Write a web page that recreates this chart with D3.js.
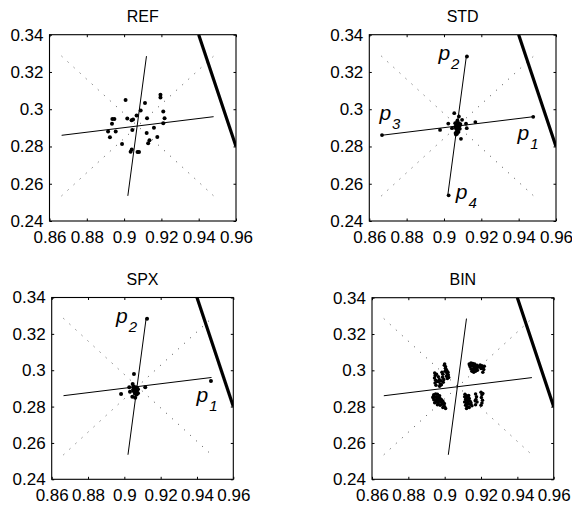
<!DOCTYPE html>
<html><head><meta charset="utf-8">
<script src="https://cdn.jsdelivr.net/npm/d3@7"></script>
<style>
body{margin:0;background:#fff}
svg{display:block}
text{font-family:"Liberation Sans",Arial,sans-serif;fill:#000}
</style>
</head><body><svg id="c" width="572" height="506"></svg>
<script>
// ---------- data ----------
const xTicks=[0.86,0.88,0.9,0.92,0.94,0.96];
const xTickLabels=["0.86","0.88","0.9","0.92","0.94","0.96"];
const yTicks=[0.24,0.26,0.28,0.3,0.32,0.34];
const yTickLabels=["0.24","0.26","0.28","0.3","0.32","0.34"];
const panelTitles=["REF","STD","SPX","BIN"];

// principal-axis end points p1..p4
const pNames=["1","2","3","4"];
const pX=[0.948,0.912,0.8665,0.902];
const pY=[0.296,0.3285,0.286,0.2535];
// dotted diagonals
const diagX=[0.8665,0.948];
const diagYa=[0.3285,0.2535];
const diagYb=[0.2535,0.3285];
// thick boundary line
const boundX=[0.94,0.96];
const boundY=[0.34,0.28];

const refX=[0.9008,0.9112,0.9195,0.9195,0.9089,0.9210,0.9067,0.9017,0.9040,0.9048,0.8937,0.8948,0.8935,0.9123,0.9217,0.9210,0.9160,0.9044,0.8914,0.8955,0.8924,0.9121,0.9178,0.9136,0.9129,0.8989,0.9041,0.9035,0.9072,0.9080];
const refY=[0.3049,0.3033,0.3077,0.3063,0.2993,0.2988,0.2966,0.2950,0.2941,0.2945,0.2947,0.2947,0.2922,0.2952,0.2951,0.2925,0.2900,0.2889,0.2880,0.2880,0.2850,0.2872,0.2851,0.2834,0.2818,0.2813,0.2784,0.2772,0.2771,0.2771];

const stdX=[0.9055,0.9023,0.8979,0.9168,0.9118,0.9122,0.9091,0.9064,0.9080,0.9097,0.9043,
 0.9060,0.9070,0.9080,0.9065,0.9075,0.9085,0.9060,0.9070,0.9080,0.9065,0.9075,0.9085,0.9068,0.9078,0.9070,0.9062,0.9088,0.9072,
 0.9478,0.9123,0.8668,0.9025];
const stdY=[0.2979,0.2923,0.2889,0.2931,0.2922,0.2898,0.2841,0.2864,0.2961,0.2943,0.2898,
 0.2925,0.2930,0.2925,0.2915,0.2918,0.2912,0.2905,0.2908,0.2902,0.2895,0.2890,0.2895,0.2880,0.2878,0.2868,0.2872,0.2920,0.2940,
 0.2959,0.3283,0.2861,0.2538];

const spxX=[0.9053,0.8982,0.9115,0.9027,0.9044,0.9060,0.9031,0.9046,0.9477,0.9125,
 0.9050,0.9060,0.9070,0.9055,0.9065,0.9075,0.9050,0.9060,0.9070,0.9058,0.9068,0.9075,0.9048];
const spxY=[0.2979,0.2869,0.2906,0.2906,0.2854,0.2849,0.2882,0.2924,0.2941,0.3283,
 0.2910,0.2906,0.2902,0.2897,0.2893,0.2896,0.2886,0.2882,0.2879,0.2870,0.2866,0.2873,0.2893];

const binX=[
 // upper left
 0.8945,0.8948,0.8944,0.8950,0.8947,0.8952,0.8965,0.8970,0.8968,0.8975,0.8972,0.8985,0.8990,0.8988,0.8995,0.8992,0.9000,0.9005,0.9008,0.9002,0.9012,0.9010,0.9015,0.9020,0.9018,0.9022,
 0.8955,0.8958,0.8980,0.8982,0.9004,0.9012,0.9016,0.8998,
 // upper right
 0.9135,0.9145,0.9155,0.9165,0.9140,0.9150,0.9160,0.9170,0.9145,0.9155,0.9165,0.9175,0.9150,0.9160,0.9170,0.9180,0.9195,0.9205,0.9210,0.9200,0.9215,0.9210,0.9185,
 0.9138,0.9158,0.9178,0.9190,0.9218,
 // lower left
 0.8940,0.8950,0.8960,0.8935,0.8945,0.8955,0.8965,0.8940,0.8950,0.8960,0.8970,0.8975,0.8945,0.8955,0.8965,0.8980,0.8990,0.8985,0.8995,0.9000,0.9005,0.8990,0.8975,0.8960,
 0.8938,0.8958,0.8972,0.8983,0.8998,
 // lower right
 0.9110,0.9120,0.9130,0.9115,0.9125,0.9135,0.9140,0.9110,0.9120,0.9130,0.9145,0.9115,0.9125,0.9135,0.9120,0.9150,0.9170,0.9175,0.9172,0.9178,0.9170,0.9200,0.9205,0.9202,0.9208,0.9205,0.9200,
 0.9118,0.9128,0.9142,0.9112,0.9132,0.9168,0.9210];
const binY=[
 0.2985,0.2972,0.2958,0.2945,0.2930,0.2918,0.2965,0.2950,0.2938,0.2925,0.2912,0.2990,0.2978,0.2962,0.2950,0.2935,0.3035,0.3020,0.3005,0.2995,0.2985,0.2968,0.2955,0.2975,0.2990,0.2960,
 0.2978,0.2938,0.2942,0.2920,0.3012,0.2998,0.2978,0.3028,
 0.3035,0.3040,0.3038,0.3035,0.3020,0.3025,0.3020,0.3022,0.3008,0.3005,0.3008,0.3010,0.2995,0.2990,0.2995,0.3000,0.3030,0.3025,0.3015,0.3010,0.3005,0.2990,0.3018,
 0.3028,0.3030,0.3028,0.3020,0.3022,
 0.2865,0.2870,0.2868,0.2850,0.2852,0.2855,0.2850,0.2838,0.2835,0.2840,0.2832,0.2845,0.2822,0.2825,0.2820,0.2825,0.2830,0.2815,0.2810,0.2800,0.2790,0.2795,0.2808,0.2810,
 0.2858,0.2845,0.2860,0.2838,0.2818,
 0.2855,0.2860,0.2850,0.2840,0.2835,0.2845,0.2830,0.2825,0.2820,0.2815,0.2820,0.2808,0.2800,0.2795,0.2790,0.2805,0.2870,0.2855,0.2840,0.2825,0.2810,0.2880,0.2865,0.2850,0.2835,0.2820,0.2808,
 0.2848,0.2828,0.2812,0.2868,0.2862,0.2832,0.2872];

// ---------- layout ----------
const panels=[
 {title:panelTitles[0],l:49.5,t:34.7,w:186.5,h:186.3,xs:refX,ys:refY,r:2.0,labels:[]},
 {title:panelTitles[1],l:369.3,t:34.7,w:186.7,h:186.3,xs:stdX,ys:stdY,r:1.9,
  labels:[{i:0,dx:-16,dy:23},{i:1,dx:-28,dy:3.5},{i:2,dx:-2,dy:-15},{i:3,dx:8,dy:3.5}]},
 {title:panelTitles[2],l:51.7,t:297.5,w:181.6,h:181.8,xs:spxX,ys:spxY,r:2.0,
  labels:[{i:0,dx:-15,dy:25},{i:1,dx:-30,dy:4.5}]},
 {title:panelTitles[3],l:372,t:297.7,w:181.7,h:181.6,xs:binX,ys:binY,r:1.75,labels:[]}
];

const svg=d3.select("#c");
panels.forEach((p,k)=>{
  const x=d3.scaleLinear().domain([xTicks[0],xTicks[xTicks.length-1]]).range([0,p.w]);
  const y=d3.scaleLinear().domain([yTicks[0],yTicks[yTicks.length-1]]).range([p.h,0]);
  const g=svg.append("g").attr("transform",`translate(${p.l},${p.t})`);
  const cid="clip"+k;
  g.append("clipPath").attr("id",cid).append("rect").attr("width",p.w).attr("height",p.h);
  const pg=g.append("g").attr("clip-path",`url(#${cid})`);
  const line=d3.line().x(d=>x(d[0])).y(d=>y(d[1]));

  // dotted diagonals
  [diagYa,diagYb].forEach(dy=>{
    pg.append("path").attr("d",line(d3.zip(diagX,dy)))
      .attr("fill","none").attr("stroke","#444").attr("stroke-width",1)
      .attr("stroke-dasharray","1 7.2");
  });
  // principal axes
  pg.append("path").attr("d",line([[pX[2],pY[2]],[pX[0],pY[0]]]))
    .attr("fill","none").attr("stroke","#000").attr("stroke-width",1);
  pg.append("path").attr("d",line([[pX[3],pY[3]],[pX[1],pY[1]]]))
    .attr("fill","none").attr("stroke","#000").attr("stroke-width",1);
  // boundary
  pg.append("path").attr("d",line(d3.zip(boundX,boundY)))
    .attr("fill","none").attr("stroke","#000").attr("stroke-width",3.2);
  // points
  pg.selectAll("circle.pt").data(d3.zip(p.xs,p.ys)).join("circle").attr("class","pt")
    .attr("cx",d=>x(d[0])).attr("cy",d=>y(d[1])).attr("r",p.r).attr("fill","#000");

  // axes
  const fmtX=(d,i)=>xTickLabels[i], fmtY=(d,i)=>yTickLabels[i];
  const ax=g.append("g").attr("transform",`translate(0,${p.h})`)
    .call(d3.axisBottom(x).tickValues(xTicks).tickFormat(fmtX).tickSizeInner(-2.5).tickSizeOuter(0).tickPadding(10));
  const ay=g.append("g")
    .call(d3.axisLeft(y).tickValues(yTicks).tickFormat(fmtY).tickSizeInner(-2.5).tickSizeOuter(0).tickPadding(6));
  const axT=g.append("g").call(d3.axisTop(x).tickValues(xTicks).tickFormat("").tickSizeInner(-2.5).tickSizeOuter(0));
  const ayR=g.append("g").attr("transform",`translate(${p.w},0)`)
    .call(d3.axisRight(y).tickValues(yTicks).tickFormat("").tickSizeInner(-2.5).tickSizeOuter(0));
  [ax,ay,axT,ayR].forEach(a=>{
    a.select(".domain").remove();
    a.selectAll("line").attr("stroke","#000");
    a.selectAll("text").style("font-size","17px").attr("fill","#000");
  });
  g.append("rect").attr("width",p.w).attr("height",p.h)
    .attr("fill","none").attr("stroke","#000").attr("stroke-width",1.1);

  // title
  g.append("text").attr("x",p.w/2).attr("y",-12.5).attr("text-anchor","middle")
    .style("font-size","16px").text(p.title);

  // point labels
  p.labels.forEach(L=>{
    const t=g.append("text").attr("x",x(pX[L.i])+L.dx).attr("y",y(pY[L.i])+L.dy)
      .style("font-size","21px").style("font-style","italic");
    t.append("tspan").text("p");
    t.append("tspan").attr("dy",9).attr("dx",1).style("font-size","15px").text(pNames[L.i]);
  });
});
</script>
</body></html>
